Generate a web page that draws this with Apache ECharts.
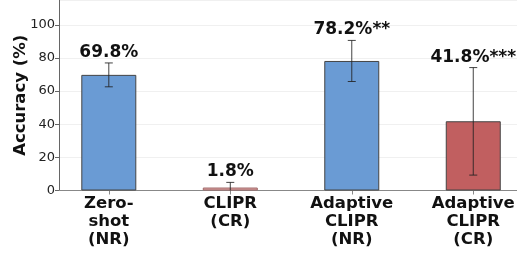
<!DOCTYPE html>
<html><head><meta charset="utf-8">
<script src="https://cdn.jsdelivr.net/npm/echarts@6/dist/echarts.min.js"></script>
<style>html,body{margin:0;padding:0;background:#fff}#c{width:517px;height:256px}</style>
</head><body><div id="c"></div>
<script>
const categories = ['Zero-\nshot\n(NR)', 'CLIPR\n(CR)', 'Adaptive\nCLIPR\n(NR)', 'Adaptive\nCLIPR\n(CR)'];
const values = [69.8, 1.8, 78.2, 41.8];
const errLow = [62.6, 0, 65.8, 9.3];
const errHigh = [77.0, 4.9, 90.6, 74.2];
const valueLabels = ['69.8%', '1.8%', '78.2%**', '41.8%***'];
const barColors = ['#6a9bd4', '#dba1a1', '#6a9bd4', '#c15f60'];
const yTicks = [0, 20, 40, 60, 80, 100];

const chart = echarts.init(document.getElementById('c'), null, {renderer: 'canvas'});
const F = 'DejaVu Sans';
chart.setOption({
  animation: false,
  grid: {left: 59, right: 0, top: 0, bottom: 65.5, outerBoundsMode: 'none', containLabel: false},
  xAxis: {
    type: 'value', min: -0.41, max: 3.36,
    axisLine: {show: true, onZero: false, lineStyle: {color: '#888', width: 1}},
    axisTick: {show: true, customValues: [0, 1, 2, 3], length: 4, lineStyle: {color: '#888'}},
    axisLabel: {customValues: [0, 1, 2, 3], formatter: v => categories[Math.round(v)] || '',
      fontFamily: F, fontWeight: 'bold', fontSize: 16.5, color: '#111', lineHeight: 18, margin: 4},
    splitLine: {show: false}
  },
  yAxis: {
    type: 'value', min: 0, max: 115, interval: 20,
    name: 'Accuracy (%)', nameLocation: 'middle', nameGap: 30, nameMoveOverlap: false,
    nameTextStyle: {fontFamily: F, fontWeight: 'bold', fontSize: 16.5, color: '#111'},
    axisLine: {show: true, onZero: false, lineStyle: {color: '#666', width: 1}},
    axisTick: {show: true, length: 4, lineStyle: {color: '#666'}},
    axisLabel: {fontFamily: F, fontSize: 13, color: '#222', margin: 4, showMaxLabel: false,
      formatter: v => yTicks.includes(v) ? String(v) : ''},
    splitLine: {show: true, lineStyle: {color: '#f0f0f0', width: 1}}
  },
  series: [
    {
      type: 'bar', barWidth: 55,
      data: values.map((v, i) => ({value: [i, v], itemStyle: {color: barColors[i], borderColor: i === 1 ? '#a06a6a' : '#444', borderWidth: 1}})),
      z: 2
    },
    {
      type: 'custom', z: 5,
      data: values.map((v, i) => [i, errLow[i], errHigh[i]]),
      renderItem: (params, api) => {
        const i = api.value(0);
        const lo = api.coord([i, api.value(1)]);
        const hi = api.coord([i, api.value(2)]);
        const cap = 4;
        const st = {stroke: '#222', lineWidth: 1, opacity: 0.85};
        return {type: 'group', children: [
          {type: 'line', shape: {x1: lo[0], y1: lo[1], x2: hi[0], y2: hi[1]}, style: st},
          {type: 'line', shape: {x1: hi[0] - cap, y1: hi[1], x2: hi[0] + cap, y2: hi[1]}, style: st},
          {type: 'line', shape: {x1: lo[0] - cap, y1: lo[1], x2: lo[0] + cap, y2: lo[1]}, style: st, invisible: api.value(1) <= 0},
          {type: 'text', style: {text: valueLabels[params.dataIndex], x: hi[0], y: hi[1] - 2,
            align: 'center', verticalAlign: 'bottom', fontFamily: F, fontWeight: 'bold', fontSize: 17, fill: '#111'}}
        ]};
      }
    }
  ]
});
</script></body></html>
